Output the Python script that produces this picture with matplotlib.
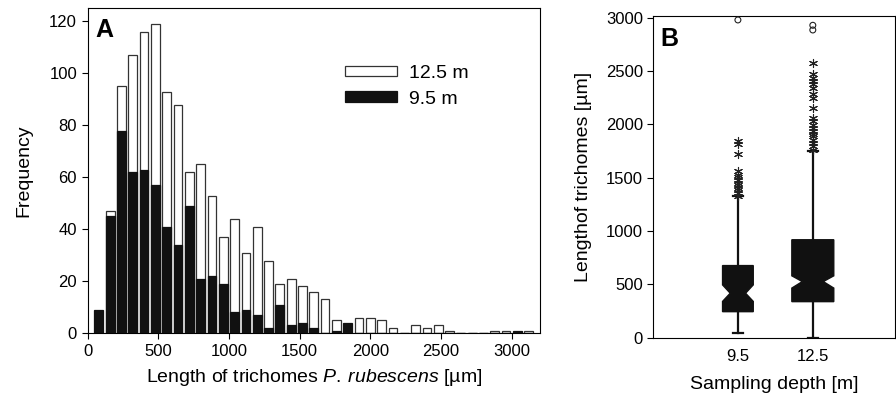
import numpy as np
import matplotlib.pyplot as plt

plt.rcParams['font.family'] = ['Liberation Sans', 'DejaVu Sans']
plt.rcParams['mathtext.fontset'] = 'custom'
plt.rcParams['mathtext.it'] = 'Liberation Sans:italic'
plt.rcParams['mathtext.rm'] = 'Liberation Sans'

# --- panel A: histogram data (bin width 80 um, counts per bin) ---
bin_width = 80
counts_125 = [0, 47, 95, 107, 116, 119, 93, 88, 62, 65, 53, 37, 44, 31, 41, 28, 19, 21,
              18, 16, 13, 5, 0, 6, 6, 5, 2, 0, 3, 2, 3, 1, 0, 0, 0, 1, 1, 0, 1]
counts_95 = [9, 45, 78, 62, 63, 57, 41, 34, 49, 21, 22, 19, 8, 9, 7, 2, 11, 3,
             4, 2, 0, 1, 4, 0, 0, 0, 0, 0, 0, 0, 0, 0, 0, 0, 0, 0, 0, 1, 0]
hist_xticks = [0, 500, 1000, 1500, 2000, 2500, 3000]
hist_yticks = [0, 20, 40, 60, 80, 100, 120]

# --- panel B: box plot statistics ---
depths = ['9.5', '12.5']
q1 = [244, 338]
med = [417, 526]
q3 = [676, 918]
whis_lo = [41, 0]
whis_hi = [1325, 1748]
ci_lo = [340, 465]
ci_hi = [495, 580]
stars_95 = [1330, 1356, 1380, 1403, 1430, 1450, 1481, 1505, 1528, 1560, 1725, 1820, 1841]
stars_125 = [1760, 1794, 1826, 1857, 1888, 1910, 1935, 1967, 1998, 2029, 2061,
             2155, 2249, 2280, 2343, 2374, 2405, 2436, 2468, 2571]
circles_95 = [2978]
circles_125 = [2884, 2928]

fig = plt.figure(figsize=(8.96, 3.98), dpi=100)
axA = fig.add_axes([0.0977, 0.1626, 0.505, 0.8164])
axB = fig.add_axes([0.7291, 0.1515, 0.27, 0.8083])

centers = bin_width * np.arange(1, len(counts_125) + 1)
axA.bar(centers, counts_125, width=62, color='white', edgecolor='#333333', linewidth=0.9,
        label='12.5 m', zorder=2)
axA.bar(centers, counts_95, width=62, color='#111111', edgecolor='#111111', linewidth=0.9,
        label='9.5 m', zorder=3)
axA.set_xlim(0, 3200)
axA.set_ylim(0, 125)
axA.set_xticks(hist_xticks)
axA.set_yticks(hist_yticks)
axA.tick_params(labelsize=12, direction='out', length=4)
axA.set_xlabel('Length of trichomes $\\mathit{P.}\\:\\mathit{rubescens}$ [µm]', fontsize=14, labelpad=6)
axA.set_ylabel('Frequency', fontsize=14, labelpad=12)
axA.text(0.017, 0.97, 'A', transform=axA.transAxes, fontsize=18, fontweight='bold',
         va='top', ha='left')
axA.legend(loc='upper left', bbox_to_anchor=(0.53, 0.88), frameon=False, fontsize=14,
           handlelength=2.7, handleheight=0.46, handletextpad=0.6, labelspacing=0.45)

stats = []
for i in range(len(depths)):
    stats.append(dict(med=med[i], q1=q1[i], q3=q3[i], whislo=whis_lo[i], whishi=whis_hi[i],
                      cilo=ci_lo[i], cihi=ci_hi[i], fliers=[]))
axB.bxp(stats, positions=[1, 2], widths=[0.41, 0.56], shownotches=True, showfliers=False,
        patch_artist=True, capwidths=[0.14, 0.14],
        boxprops=dict(facecolor='#111111', edgecolor='#111111', linewidth=1),
        medianprops=dict(color='#111111', linewidth=0),
        whiskerprops=dict(color='#111111', linewidth=1.6),
        capprops=dict(color='#111111', linewidth=1.6))
axB.scatter([1] * len(stars_95), stars_95, marker=(6, 2, 0), s=34, color='#222222',
            linewidths=0.8, zorder=3)
axB.scatter([2] * len(stars_125), stars_125, marker=(6, 2, 0), s=34, color='#222222',
            linewidths=0.8, zorder=3)
axB.scatter([1] * len(circles_95), circles_95, marker='o', s=18, facecolors='none',
            edgecolors='#222222', linewidths=0.8, zorder=3)
axB.scatter([2] * len(circles_125), circles_125, marker='o', s=18, facecolors='none',
            edgecolors='#222222', linewidths=0.8, zorder=3)
axB.set_xlim(-0.13, 3.1)
axB.set_ylim(0, 3015)
axB.set_xticks([1, 2])
axB.set_xticklabels(depths)
axB.set_yticks([0, 500, 1000, 1500, 2000, 2500, 3000])
axB.tick_params(axis='x', length=0, labelsize=12, pad=8)
axB.tick_params(axis='y', labelsize=12, direction='out', length=4, right=True)
axB.set_xlabel('Sampling depth [m]', fontsize=14, labelpad=9)
axB.set_ylabel('Lengthof trichomes [µm]', fontsize=14, labelpad=10)
axB.text(0.03, 0.965, 'B', transform=axB.transAxes, fontsize=18, fontweight='bold',
         va='top', ha='left')

fig.savefig('out.png', dpi=100)
